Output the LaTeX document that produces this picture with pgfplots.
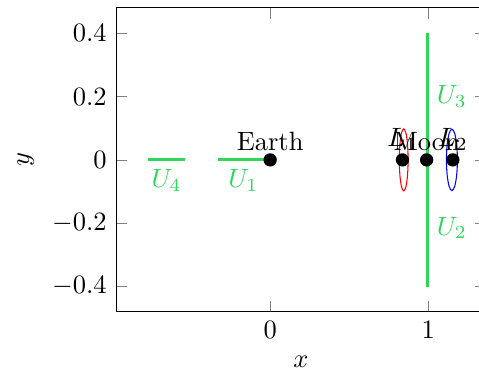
\documentclass[border=0pt]{standalone}
\usepackage{pgfplots}
\pgfplotsset{compat=1.18}
\definecolor{ugreen}{RGB}{48,214,92}
\begin{document}
\begin{tikzpicture}
\begin{axis}[
  scale only axis,
  width=139.6pt, height=114.7pt,
  xmin=-0.975, xmax=1.365,
  ymin=-0.48, ymax=0.48,
  xtick={0,1},
  ytick={-0.4,-0.2,0,0.2,0.4},
  xlabel={$x$}, ylabel={$y$},
  clip=false,
]
\addplot[ugreen, very thick] coordinates {(-0.77,0) (-0.54,0)};
\addplot[ugreen, very thick] coordinates {(-0.33,0) (0,0)};
\addplot[ugreen, very thick] coordinates {(0.995,-0.4) (0.995,0.4)};
\addplot[red, thin, smooth cycle] coordinates {
 (0.873,0) (0.869,0.049) (0.859,0.085) (0.845,0.098) (0.831,0.085) (0.821,0.049)
 (0.817,0) (0.821,-0.049) (0.831,-0.085) (0.845,-0.098) (0.859,-0.085) (0.869,-0.049)};
\addplot[blue, thin, smooth cycle] coordinates {
 (1.185,0) (1.180,0.0485) (1.1675,0.084) (1.150,0.097) (1.1325,0.084) (1.120,0.0485)
 (1.115,0) (1.120,-0.0485) (1.1325,-0.084) (1.150,-0.097) (1.1675,-0.084) (1.180,-0.0485)};
\addplot[only marks, mark=*, mark size=2.3pt, black,
  nodes near coords, point meta=explicit symbolic,
  nodes near coords style={anchor=south, black, font=\normalsize, yshift=0pt}]
  coordinates {(0,0) [Earth] (0.99,0) [Moon] (0.837,0) [$L_1$] (1.156,0) [$L_2$]};
\node[ugreen, below] at (axis cs:-0.655,0) {$U_4$};
\node[ugreen, below] at (axis cs:-0.17,0) {$U_1$};
\node[ugreen, right] at (axis cs:0.995,0.2) {$U_3$};
\node[ugreen, right] at (axis cs:0.995,-0.215) {$U_2$};
\coordinate (bbSW) at (rel axis cs:0,0);
\coordinate (bbNW) at (rel axis cs:0,1);
\end{axis}
\pgfresetboundingbox
\path[use as bounding box] ([shift={(-43.8pt,-24.2pt)}]bbSW) rectangle ([shift={(137pt,3pt)}]bbNW);
\end{tikzpicture}
\end{document}
